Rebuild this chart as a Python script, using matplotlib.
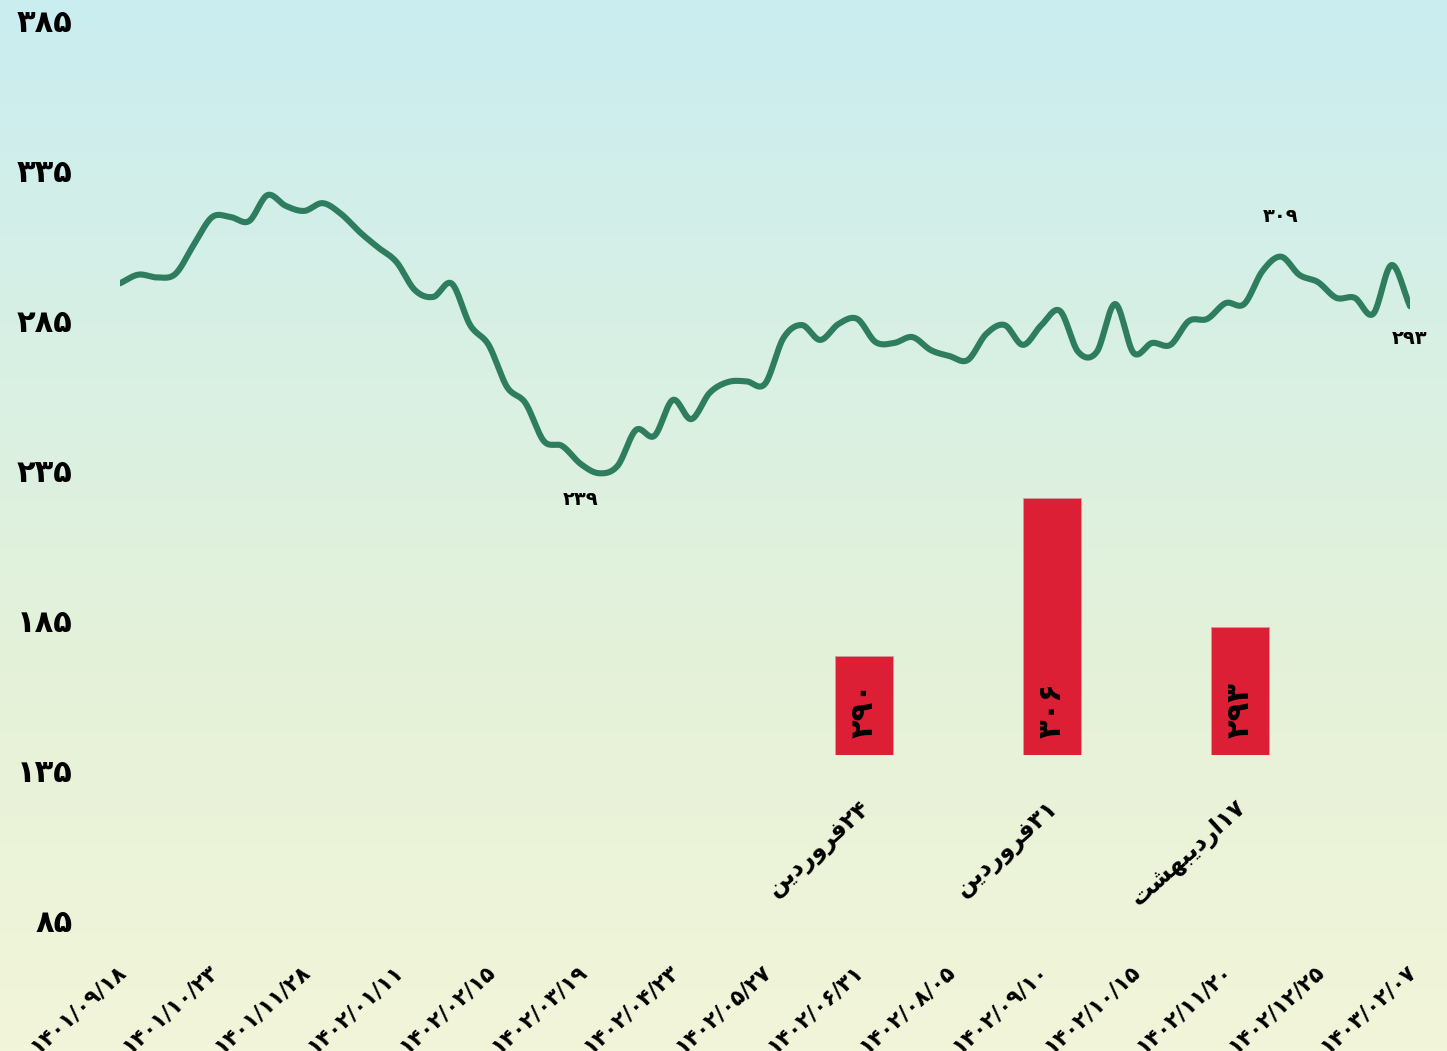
import numpy as np
import matplotlib
matplotlib.use("Agg")
import matplotlib.pyplot as plt
from matplotlib.colors import LinearSegmentedColormap

FA = str.maketrans("0123456789", "۰۱۲۳۴۵۶۷۸۹")


def fa(s):
    return str(s).translate(FA)


# ---------------- data ----------------
price = [300.4, 303.2, 302.3, 303.4, 312.8, 321.8, 321.8, 320.5, 328.9, 325.4,
         323.8, 326.3, 322.8, 317.0, 312.0, 307.3, 298.2, 296.0, 300.3, 286.9,
         280.5, 266.9, 261.7, 249.4, 247.8, 242.0, 239.0, 241.4, 253.0, 251.1,
         262.7, 256.5, 265.0, 268.5, 268.7, 267.9, 282.7, 286.9, 282.1, 287.3,
         288.9, 281.4, 281.1, 283.0, 278.8, 276.9, 275.6, 284.0, 286.9, 280.5,
         286.9, 291.5, 278.2, 278.2, 293.7, 277.9, 281.1, 280.5, 288.2, 288.9,
         294.0, 293.7, 304.4, 309.0, 303.1, 300.8, 295.7, 295.7, 290.5, 306.3,
         293.0]

date_labels = ["1401/09/18", "1401/10/23", "1401/11/28", "1402/01/11", "1402/02/15",
               "1402/03/19", "1402/04/23", "1402/05/27", "1402/06/31", "1402/08/05",
               "1402/09/10", "1402/10/15", "1402/11/20", "1402/12/25", "1403/02/07"]
label_step = 5

y_ticks = [85, 135, 185, 235, 285, 335, 385]

# annotated points: (index, text)
annot_points = [(63, "309"), (26, "239"), (70, "293")]

# bar categories (logical text: ۲۴فروردین, ۳۱فروردین, ۱۷اردیبهشت) in visual, shaped form
farvardin_vis = "\uFEE6\uFEF3\uFEA9\uFEAD\uFEED\uFEAE\uFED3"
ordibehesht_vis = "\uFE96\uFEB8\uFEEC\uFE92\uFEF3\uFEA9\uFEAD\uFE8D"
bar_categories = [farvardin_vis + fa("24"), farvardin_vis + fa("31"), ordibehesht_vis + fa("17")]
bar_values = [290, 306, 293]
bar_base = 280

# ---------------- style ----------------
W, H = 1447, 1051
LINE_COLOR = "#2f7d5f"
BAR_COLOR = "#dc1f35"
FONT = ["DejaVu Sans"]
plt.rcParams["font.family"] = FONT
plt.rcParams["font.weight"] = "bold"


def px_rect(x0, y0, x1, y1):
    return [x0 / W, 1 - y1 / H, (x1 - x0) / W, (y1 - y0) / H]


def smooth(y, n=16):
    y = np.asarray(y, float)
    x = np.arange(len(y), dtype=float)
    yp = np.concatenate([[2 * y[0] - y[1]], y, [2 * y[-1] - y[-2]]])
    t = np.linspace(0, 1, n, endpoint=False)
    xs, ys = [], []
    for i in range(1, len(yp) - 2):
        p0, p1, p2, p3 = yp[i - 1:i + 3]
        seg = 0.5 * (2 * p1 + (-p0 + p2) * t + (2 * p0 - 5 * p1 + 4 * p2 - p3) * t ** 2
                     + (-p0 + 3 * p1 - 3 * p2 + p3) * t ** 3)
        xs.append(x[i - 1] + t)
        ys.append(seg)
    xs.append([x[-1]])
    ys.append([y[-1]])
    return np.concatenate(xs), np.concatenate(ys)


fig = plt.figure(figsize=(W / 100, H / 100), dpi=100)

# background gradient
bg = fig.add_axes([0, 0, 1, 1], zorder=-10)
cmap = LinearSegmentedColormap.from_list("bg", ["#caedf0", "#d8f0e4", "#e6f2d8", "#f2f5d9"])
grad = np.linspace(0, 1, 256).reshape(-1, 1)
bg.imshow(grad, aspect="auto", cmap=cmap, extent=[0, 1, 0, 1], origin="upper")
bg.axis("off")

# main axis (ticks)
ax = fig.add_axes(px_rect(120, 20, 1410, 920))
ax.patch.set_alpha(0)
n = len(price)
ax.set_xlim(0, n - 1)
ax.set_ylim(min(y_ticks), max(y_ticks))
ax.set_yticks(y_ticks)
ax.set_yticklabels([fa(v) for v in y_ticks], fontsize=22, fontweight="bold")
ax.tick_params(axis="y", length=0, pad=34)
ax.set_xticks([])
for s in ax.spines.values():
    s.set_visible(False)

tick_idx = list(range(0, n, label_step))
for i, lab in zip(tick_idx, date_labels):
    ax.annotate(fa(lab), xy=(i, 0), xycoords=("data", "axes fraction"),
                xytext=(2, -35), textcoords="offset points",
                rotation=42, ha="right", va="center", rotation_mode="anchor",
                fontsize=15.5, fontweight="bold", color="black", annotation_clip=False)

# line axis
axl = fig.add_axes(px_rect(120, 20, 1410, 920), sharex=ax)
axl.patch.set_alpha(0)
axl.set_ylim(94.6, 385.5)
axl.axis("off")
xs, ys = smooth(price)
axl.plot(xs, ys, color=LINE_COLOR, lw=4.4, solid_capstyle="round", solid_joinstyle="round")
offsets = {63: (0, 29), 26: (-13, -19), 70: (0, -23)}
for i, txt in annot_points:
    axl.annotate(fa(txt), xy=(i, price[i]), xytext=offsets[i], textcoords="offset points",
                 ha="center", va="center", fontsize=14, fontweight="bold",
                 color="black", annotation_clip=False)

# bar axis
axb = fig.add_axes(px_rect(770, 20, 1334, 755))
axb.patch.set_alpha(0)
axb.set_xlim(-0.5, len(bar_values) - 0.5)
axb.set_ylim(bar_base, bar_base + 735 / 9.875)
axb.axis("off")
bx = np.arange(len(bar_values))
axb.bar(bx, [v - bar_base for v in bar_values], bottom=bar_base, width=0.31,
        color=BAR_COLOR, edgecolor="#c9a0a5", linewidth=0.6)
for i, v in enumerate(bar_values):
    axb.annotate(fa(v), xy=(i, bar_base), xytext=(0, 12), textcoords="offset points",
                 rotation=90, ha="left", va="center", rotation_mode="anchor",
                 fontsize=22, fontweight="bold", color="black")
    axb.annotate(bar_categories[i], xy=(i, bar_base), xytext=(2, -36), textcoords="offset points",
                 rotation=42, ha="right", va="center", rotation_mode="anchor",
                 fontsize=17, fontweight="bold", color="black", annotation_clip=False)

fig.savefig("out.png", dpi=100)
